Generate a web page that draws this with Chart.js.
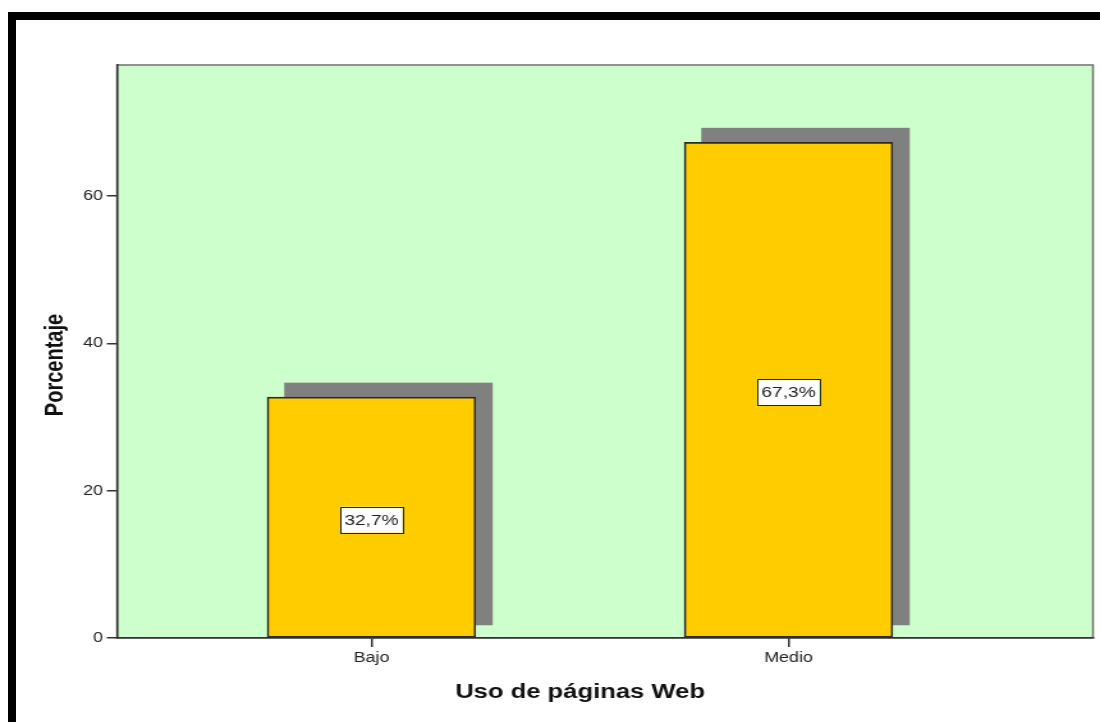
<!DOCTYPE html>
<html>
<head>
<meta charset="utf-8">
<script src="https://cdn.jsdelivr.net/npm/chart.js@4.4.0/dist/chart.umd.min.js"></script>
<style>
    html, body { margin: 0; padding: 0; background: #fff; width: 1100px; height: 722px; overflow: hidden; }
    #frame { position: absolute; left: 8px; top: 12px; width: 1100px; height: 720px; border-left: 8px solid #000; border-top: 8px solid #000; }
    #chart { position: absolute; left: 0; top: 0; }
</style>
</head>
<body>
<div id="frame"></div>
<!-- the original picture is stretched sideways, so the canvas is drawn narrower and widened by css -->
<canvas id="chart" width="860" height="722" style="width:1100px;height:722px"></canvas>
<script>
'use strict';

const categories = ['Bajo', 'Medio'];
const percentages = [32.7, 67.3];
const yTicks = [0, 20, 40, 60];
const xTitle = 'Uso de páginas Web';
const yTitle = 'Porcentaje';

const FONT = "'Liberation Sans', Arial, sans-serif";
Chart.defaults.font.family = FONT;

// green plot area with its frame
const plotBackground = {
    id: 'plotBackground',
    beforeDraw(chart) {
        const { ctx, chartArea: a } = chart;
        ctx.save();
        ctx.fillStyle = '#CCFFCC';
        ctx.fillRect(a.left, a.top, a.right - a.left, a.bottom - a.top);
        ctx.strokeStyle = '#707070';
        ctx.lineWidth = 1.5;
        ctx.strokeRect(a.left, a.top, a.right - a.left, a.bottom - a.top);
        ctx.restore();
    }
};

// grey drop shadow behind each bar
const barShadow = {
    id: 'barShadow',
    beforeDatasetsDraw(chart) {
        const ctx = chart.ctx;
        const meta = chart.getDatasetMeta(0);
        ctx.save();
        ctx.fillStyle = '#808080';
        meta.data.forEach(bar => {
            const p = bar.getProps(['x', 'y', 'base', 'width'], true);
            ctx.fillRect(p.x - p.width / 2 + 13.3, p.y - 14.5, p.width, p.base - p.y + 2.5);
        });
        ctx.restore();
    }
};

// boxed percentage in the middle of each bar
const barLabels = {
    id: 'barLabels',
    afterDatasetsDraw(chart) {
        const ctx = chart.ctx;
        const meta = chart.getDatasetMeta(0);
        ctx.save();
        ctx.font = '15px ' + FONT;
        ctx.textAlign = 'center';
        ctx.textBaseline = 'middle';
        meta.data.forEach((bar, i) => {
            const p = bar.getProps(['x', 'y', 'base'], true);
            const txt = percentages[i].toFixed(1).replace('.', ',') + '%';
            const cy = (p.y + p.base) / 2 + 2.5;
            const w = ctx.measureText(txt).width + 6;
            const h = 26;
            ctx.fillStyle = '#fff';
            ctx.fillRect(p.x - w / 2, cy - h / 2, w, h);
            ctx.strokeStyle = '#222';
            ctx.lineWidth = 1;
            ctx.strokeRect(Math.round(p.x - w / 2) + 0.5, Math.round(cy - h / 2) + 0.5, Math.round(w), h);
            ctx.fillStyle = '#222';
            ctx.fillText(txt, p.x, cy + 1);
        });
        ctx.restore();
    }
};

// axis titles, placed off-centre as in the original
const axisTitles = {
    id: 'axisTitles',
    afterDraw(chart) {
        const { ctx, chartArea: a } = chart;
        ctx.save();
        ctx.fillStyle = '#111';
        ctx.font = 'bold 20px ' + FONT;
        ctx.textAlign = 'center';
        ctx.textBaseline = 'middle';
        ctx.fillText(xTitle, a.left + 362, a.bottom + 54);
        ctx.translate(43, a.top + 300);
        ctx.rotate(-Math.PI / 2);
        ctx.fillText(yTitle, 0, 0);
        ctx.restore();
    }
};

new Chart(document.getElementById('chart'), {
    type: 'bar',
    data: {
        datasets: [{
            data: categories.map((c, i) => ({ x: i + 1, y: percentages[i] })),
            backgroundColor: '#FFCC00',
            borderColor: '#2a2a2a',
            borderWidth: 1.7,
            borderSkipped: false,
            barThickness: 163
        }]
    },
    options: {
        responsive: false,
        animation: false,
        layout: { padding: { top: 65, right: 5.5, left: 0, bottom: 0 } },
        plugins: {
            legend: { display: false },
            tooltip: { enabled: false }
        },
        scales: {
            x: {
                type: 'linear',
                bounds: 'data',
                offset: false,
                min: 0.39,
                max: 2.73,
                afterBuildTicks: s => { s.ticks = categories.map((c, i) => ({ value: i + 1 })); },
                afterFit: s => { s.height = 84; },
                grid: { offset: false, drawOnChartArea: false, tickLength: 9, color: '#333', lineWidth: 1.5 },
                border: { color: '#333', width: 1.5 },
                ticks: {
                    autoSkip: false,
                    maxRotation: 0,
                    padding: 3,
                    color: '#222',
                    font: { size: 14 },
                    callback: v => categories[Math.round(v) - 1] || ''
                }
            },
            y: {
                min: 0,
                max: 77.8,
                bounds: 'data',
                afterBuildTicks: s => { s.ticks = yTicks.map(v => ({ value: v })); },
                afterFit: s => { s.width = 91.5; },
                grid: { drawOnChartArea: false, tickLength: 8, color: '#333', lineWidth: 1.5 },
                border: { color: '#333', width: 1.5 },
                ticks: { padding: 3, color: '#222', font: { size: 14 } }
            }
        }
    },
    plugins: [plotBackground, barShadow, barLabels, axisTitles]
});
</script>
</body>
</html>
